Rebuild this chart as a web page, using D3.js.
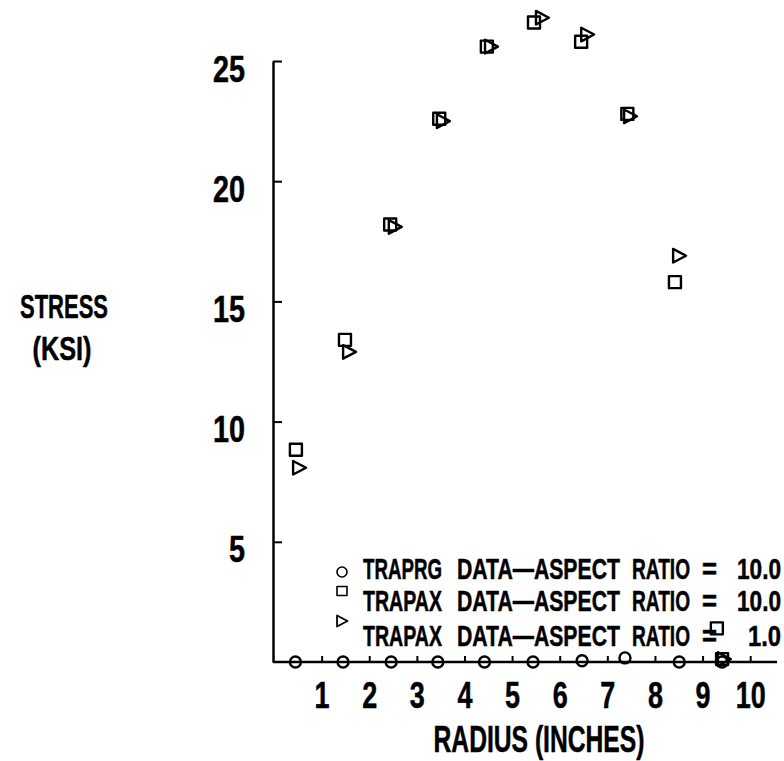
<!DOCTYPE html>
<html>
<head>
<meta charset="utf-8">
<script src="https://cdnjs.cloudflare.com/ajax/libs/d3/7.8.5/d3.min.js"></script>
<style>
  body { margin: 0; background: #fff; }
  svg text { font-family: "Liberation Sans", Arial, sans-serif; font-weight: bold; fill: #000; stroke: #000; stroke-width: 0.5px; }
</style>
</head>
<body>
<svg id="chart" width="784" height="761"></svg>
<script>
// TRAPRG, aspect ratio 10.0 (circles)
var radiusCircle = [0.45, 1.45, 2.46, 3.44, 4.42, 5.44, 6.47, 7.37, 8.51, 9.41];
var stressCircle = [0, 0, 0, 0, 0, 0, 0.05, 0.17, 0, 0];

// TRAPAX, aspect ratio 10.0 (squares)
var radiusSquare = [0.46, 1.49, 2.44, 3.47, 4.47, 5.46, 6.45, 7.42, 8.42, 9.3, 9.41];
var stressSquare = [8.83, 13.4, 18.2, 22.6, 25.6, 26.6, 25.8, 22.8, 15.8, 1.4, 0.12];

// TRAPAX, aspect ratio 1.0 (triangles)
var radiusTri = [0.53, 1.58, 2.54, 3.55, 4.56, 5.63, 6.58, 7.48, 8.51, 9.45];
var stressTri = [8.08, 12.9, 18.1, 22.5, 25.6, 26.8, 26.1, 22.7, 16.9, 0.12];

var xTicks = [1, 2, 3, 4, 5, 6, 7, 8, 9, 10];
var yTicks = [5, 10, 15, 20, 25];

var legendLines = [
  {shape: "circle", words: ["TRAPRG", "DATA\u2014ASPECT", "RATIO", "=", "10.0"]},
  {shape: "rect", words: ["TRAPAX", "DATA\u2014ASPECT", "RATIO", "=", "10.0"]},
  {shape: "tri", words: ["TRAPAX", "DATA\u2014ASPECT", "RATIO", "=", "1.0"]}
];

var svg = d3.select("#chart");

var x = d3.scaleLinear().domain([0, 10.5]).range([274, 774]);
var y = d3.scaleLinear().domain([0, 25]).range([662, 61]);

// squeeze a text horizontally to the width it has in the reference (condensed type)
function squeeze(t, px, py, width) {
  var len = t.node().getComputedTextLength();
  t.attr("x", null).attr("y", null).attr("dy", null)
    .attr("transform", "translate(" + px + "," + py + ") scale(" + (width / len) + ",1)");
  return t;
}

function label(str, px, py, size, width, anchor) {
  var t = svg.append("text").style("font-size", size + "px")
    .attr("text-anchor", anchor || "start").text(str);
  return squeeze(t, px, py, width);
}

// y axis, ticks pointing inward
var yAxis = svg.append("g").attr("transform", "translate(273,0)")
  .call(d3.axisLeft(y).tickValues(yTicks).tickSizeInner(-9).tickSizeOuter(0).tickPadding(28));
yAxis.select(".domain").attr("stroke-width", 2.5);
yAxis.selectAll(".tick line").attr("stroke-width", 2);
yAxis.selectAll(".tick text").style("font-size", "37px").attr("fill", "#000")
  .each(function(d) { squeeze(d3.select(this), -28, 20, String(d).length * 16); });

// x axis
var xAxis = svg.append("g").attr("transform", "translate(0,662)")
  .call(d3.axisBottom(x).tickValues(xTicks).tickSizeInner(-6).tickSizeOuter(0));
xAxis.select(".domain").attr("d", "M273,0H777").attr("stroke-width", 2.5);
xAxis.selectAll(".tick line").attr("stroke-width", 2);
xAxis.selectAll(".tick text").style("font-size", "37px").attr("fill", "#000")
  .each(function(d) { squeeze(d3.select(this), 0, 46, String(d).length * 15); });

// axis titles
label("STRESS", 64, 318, 34, 88, "middle");
label("(KSI)", 62, 360, 34, 59, "middle");
label("RADIUS (INCHES)", 539, 752, 36, 211, "middle");

// markers
function triPath(cx, cy, s) {
  return "M" + (cx - s * 0.9) + "," + (cy - s) + "L" + (cx + s) + "," + cy + "L" + (cx - s * 0.9) + "," + (cy + s) + "Z";
}

var marks = svg.append("g").attr("fill", "none").attr("stroke", "#000").attr("stroke-width", 2.4)
  .attr("stroke-linejoin", "round");

marks.selectAll("circle.c").data(d3.range(radiusCircle.length)).join("circle")
  .attr("class", "c")
  .attr("cx", function(i) { return x(radiusCircle[i]); })
  .attr("cy", function(i) { return y(stressCircle[i]); })
  .attr("r", 5.5);

marks.selectAll("rect.s").data(d3.range(radiusSquare.length)).join("rect")
  .attr("class", "s")
  .attr("x", function(i) { return x(radiusSquare[i]) - 6; })
  .attr("y", function(i) { return y(stressSquare[i]) - 6; })
  .attr("width", 12).attr("height", 12);

marks.selectAll("path.t").data(d3.range(radiusTri.length)).join("path")
  .attr("class", "t")
  .attr("d", function(i) { return triPath(x(radiusTri[i]), y(stressTri[i]), 6.8); });

// legend
var legendBase = [579, 611, 646];
var legendMarkY = [572, 591, 621];
var wordX = [363, 457, 632, 702];
var wordW = [79, 163, 58, 15];

legendLines.forEach(function(line, k) {
  var mx = 342, my = legendMarkY[k];
  if (line.shape == "circle") {
    marks.append("circle").attr("cx", mx).attr("cy", my).attr("r", 5).attr("stroke-width", 1.6);
  } else if (line.shape == "rect") {
    marks.append("rect").attr("x", mx - 5).attr("y", my - 4.5).attr("width", 10).attr("height", 9).attr("stroke-width", 1.6);
  } else {
    marks.append("path").attr("d", triPath(mx, my, 5.5)).attr("stroke-width", 1.8);
  }
  line.words.forEach(function(w, j) {
    if (j == 4) {
      // numbers sit flush against the right edge
      label(w, 781, legendBase[k], 29, w.length * 11, "end");
    } else {
      label(w, wordX[j], legendBase[k], 29, wordW[j]);
    }
  });
});
</script>
</body>
</html>
